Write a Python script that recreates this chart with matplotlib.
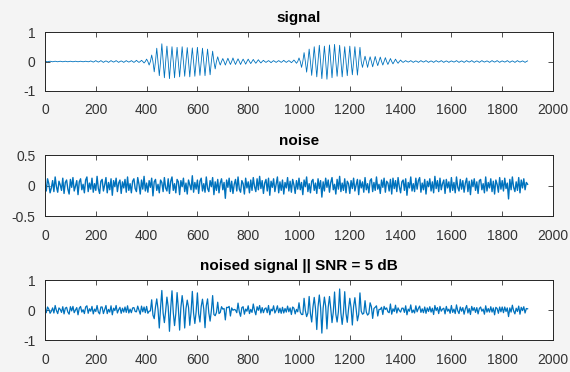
import numpy as np
import matplotlib
matplotlib.use("Agg")
import matplotlib.pyplot as plt

# sample grid: one value every 5 samples, 0..1900
x = np.arange(0, 1901, 5)

# signal peaks/troughs every 10 samples (zero crossings fall in between)
signal_peaks = [
    # 0-190
    0.01, -0.01, 0.01, -0.01, 0.01, -0.01, 0.01, -0.01, 0.01, -0.01,
    0.01, -0.01, 0.01, -0.01, 0.01, -0.01, 0.01, -0.01, 0.02, -0.02,
    # 200-390
    0.03, -0.02, 0.03, -0.03, 0.02, -0.03, 0.03, -0.02, 0.03, -0.03,
    0.02, -0.03, 0.03, -0.02, 0.03, -0.03, 0.04, -0.03, 0.04, -0.05,
    # 400-470
    0.08, -0.12, 0.22, -0.35, 0.45, -0.48, 0.60, -0.55,
    # 480-650
    0.52, -0.58, 0.50, -0.55, 0.48, -0.52, 0.50, -0.50, 0.47, -0.52,
    0.46, -0.50, 0.48, -0.47, 0.45, -0.48, 0.42, -0.45,
    # 660-690
    0.35, -0.25, 0.16, -0.12,
    # 700-850
    0.10, -0.12, 0.11, -0.10, 0.12, -0.10, 0.09, -0.10, 0.08, -0.09,
    0.08, -0.07, 0.07, -0.06, 0.06, -0.05,
    # 860-990
    0.04, -0.03, 0.03, -0.04, 0.03, -0.03, 0.03, -0.03, 0.04, -0.03,
    0.03, -0.04, 0.05, -0.06,
    # 1000-1050
    0.12, -0.20, 0.30, -0.36, 0.42, -0.47,
    # 1060-1240
    0.50, -0.52, 0.55, -0.58, 0.52, -0.60, 0.56, -0.55, 0.58, -0.50,
    0.55, -0.52, 0.50, -0.48, 0.52, -0.45, 0.50, -0.46, 0.48,
    # 1250-1400
    -0.20, 0.18, -0.20, 0.16, -0.18, 0.17, -0.14, 0.15, -0.12, 0.13,
    -0.10, 0.10, -0.08, 0.08, -0.06, 0.05,
    # 1410-1900
    -0.03, 0.03, -0.02, 0.03, -0.03, 0.02, -0.03, 0.03, -0.02, 0.03,
    -0.03, 0.02, -0.03, 0.03, -0.02, 0.03, -0.03, 0.02, -0.03, 0.02,
    -0.02, 0.03, -0.03, 0.02, -0.03, 0.03, -0.02, 0.03, -0.03, 0.02,
    -0.03, 0.03, -0.02, 0.02, -0.03, 0.03, -0.02, 0.03, -0.03, 0.02,
    -0.02, 0.03, -0.03, 0.02, -0.03, 0.03, -0.02, 0.02, -0.03, 0.02,
]

noise = [
    0.06, -0.09, 0.11, 0.03, -0.12, -0.04, 0.08, -0.10, 0.14, -0.02,
    -0.11, 0.07, 0.01, -0.08, 0.12, -0.13, 0.05, 0.09, -0.06, -0.14,
    0.10, -0.03, 0.13, -0.09, -0.01, 0.08, -0.15, 0.06, 0.11, -0.07,
    0.02, -0.12, 0.09, 0.14, -0.10, 0.04, -0.06, 0.12, -0.11, 0.03,
    -0.08, 0.15, -0.05, -0.13, 0.07, 0.10, -0.09, 0.01, 0.13, -0.12,
    0.05, -0.07, 0.11, -0.16, 0.08, -0.02, 0.12, -0.10, 0.04, 0.09,
    -0.13, 0.06, -0.04, 0.10, -0.11, 0.14, -0.08, 0.03, -0.12, 0.07,
    0.11, -0.05, -0.10, 0.13, 0.02, -0.14, 0.09, -0.06, 0.15, -0.09,
    0.04, -0.11, 0.08, -0.03, 0.12, -0.17, 0.06, 0.10, -0.08, 0.02,
    -0.12, 0.09, 0.05, -0.10, 0.13, -0.04, -0.09, 0.11, -0.13, 0.07,
    0.14, -0.08, 0.03, -0.12, 0.10, 0.06, -0.15, 0.08, -0.02, 0.12,
    -0.10, 0.04, -0.14, 0.09, 0.01, -0.07, 0.16, -0.11, 0.05, -0.06,
    0.09, -0.13, 0.07, 0.12, -0.09, 0.03, -0.11, 0.14, -0.05, -0.10,
    0.08, -0.02, 0.13, -0.15, 0.06, -0.08, 0.10, -0.12, 0.04, 0.11,
    -0.07, 0.05, -0.21, 0.09, -0.03, 0.12, -0.10, 0.07, -0.13, 0.02,
    0.10, -0.09, 0.14, -0.06, -0.11, 0.08, 0.03, -0.14, 0.12, -0.04,
    0.06, -0.12, 0.09, -0.08, 0.13, -0.02, -0.10, 0.11, -0.07, 0.15,
    -0.05, 0.08, -0.13, 0.04, 0.10, -0.09, 0.12, -0.16, 0.07, -0.03,
    0.11, -0.10, 0.02, 0.14, -0.12, 0.06, -0.08, 0.09, -0.14, 0.05,
    -0.04, 0.13, -0.09, 0.07, -0.11, 0.10, 0.01, -0.13, 0.08, -0.06,
    0.12, -0.07, 0.05, -0.15, 0.09, -0.02, 0.14, -0.10, 0.03, -0.12,
    0.07, 0.10, -0.08, 0.04, -0.13, 0.11, -0.05, 0.08, -0.19, 0.06,
    -0.09, 0.12, -0.03, 0.09, -0.11, 0.05, 0.13, -0.07, 0.02, -0.14,
    0.10, -0.06, 0.15, -0.10, 0.04, -0.08, 0.11, -0.12, 0.07, 0.03,
    -0.13, 0.08, -0.05, 0.12, -0.09, 0.01, 0.10, -0.15, 0.09, -0.04,
    0.06, -0.11, 0.13, -0.07, 0.03, -0.12, 0.08, 0.11, -0.10, 0.05,
    -0.08, 0.14, -0.06, 0.02, -0.13, 0.09, -0.03, 0.12, -0.11, 0.07,
    0.04, -0.09, 0.10, -0.14, 0.12, -0.05, 0.08, -0.10, 0.13, -0.02,
    -0.12, 0.06, 0.09, -0.08, 0.11, -0.16, 0.05, -0.04, 0.14, -0.09,
    0.03, -0.10, 0.12, -0.06, 0.08, 0.13, -0.11, 0.04, -0.07, 0.10,
    -0.14, 0.07, -0.02, 0.11, -0.09, 0.06, -0.12, 0.15, -0.05, 0.08,
    -0.10, 0.12, -0.07, 0.03, 0.09, -0.13, 0.10, -0.04, 0.06, -0.11,
    0.13, -0.08, 0.05, -0.12, 0.14, -0.03, -0.09, 0.10, -0.06, 0.08,
    -0.11, 0.04, 0.12, -0.10, 0.07, -0.15, 0.09, -0.02, 0.11, -0.08,
    0.06, -0.13, 0.08, 0.10, -0.07, 0.03, -0.12, 0.14, -0.09, 0.05,
    -0.04, 0.11, -0.10, 0.07, -0.14, 0.09, 0.02, -0.11, 0.13, -0.06,
    0.08, -0.09, 0.12, -0.05, 0.04, -0.22, 0.10, -0.07, 0.14, -0.03,
    -0.10, 0.06, -0.08, 0.13, -0.12, 0.09, -0.04, 0.11, -0.07, 0.05,
    0.02,
]

# signal on the 5-sample grid: peaks on even slots, zero crossings between
signal = np.zeros(len(x))
signal[::2] = signal_peaks
noised = signal + np.array(noise)

titles = ["signal", "noise", "noised signal || SNR = 5 dB"]
series = [signal, noise, noised]
line_widths = [0.6, 1.0, 0.9]
ylims = [(-1, 1), (-0.5, 0.5), (-1, 1)]
yticks = [[-1, 0, 1], [-0.5, 0, 0.5], [-1, 0, 1]]
ytick_labels = [["-1", "0", "1"], ["-0.5", "0", "0.5"], ["-1", "0", "1"]]
xticks = list(range(0, 2001, 200))

BLUE = (0.0, 0.447, 0.741)
plt.rcParams["font.family"] = ["Liberation Sans", "DejaVu Sans"]

fig = plt.figure(figsize=(5.7, 3.72), dpi=100, facecolor="#f4f4f4")
W, H = 570, 372
# axes boxes in pixels: (top, bottom)
boxes = [(32, 91), (155, 216), (280, 340)]
left, right = 45, 553

for (top, bot), y, lw, title, yl, yt, ytl in zip(
        boxes, series, line_widths, titles, ylims, yticks, ytick_labels):
    ax = fig.add_axes([left / W, 1 - bot / H, (right - left) / W,
                       (bot - top) / H])
    ax.plot(x, y, color=BLUE, lw=lw)
    ax.set_xlim(0, 2000)
    ax.set_ylim(*yl)
    ax.set_xticks(xticks)
    ax.set_xticklabels([str(t) for t in xticks])
    ax.set_yticks(yt)
    ax.set_yticklabels(ytl)
    ax.tick_params(direction="in", top=True, right=True, length=3.5,
                   width=0.6, labelsize=10, colors="#333333")
    ax.tick_params(axis="x", pad=9)
    ax.tick_params(axis="y", pad=7)
    for s in ax.spines.values():
        s.set_linewidth(0.7)
        s.set_color("#262626")
    ax.set_title(title, fontsize=11, fontweight="bold", pad=7)

fig.savefig("out.png", dpi=100, facecolor=fig.get_facecolor())
